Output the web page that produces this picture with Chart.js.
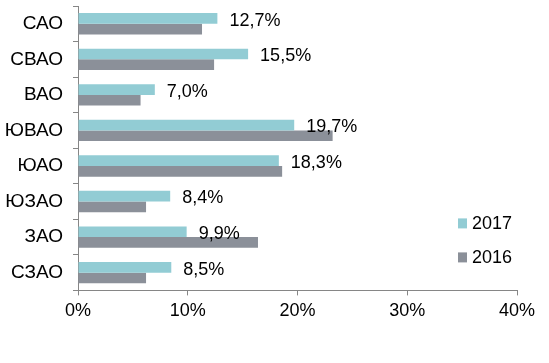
<!DOCTYPE html>
<html>
<head>
<meta charset="utf-8">
<style>
  html, body { margin: 0; padding: 0; background: #fff; }
  #wrap { width: 549px; height: 363px; }
</style>
</head>
<body>
<div id="wrap"><canvas id="districtChart"></canvas></div>

<script src="https://cdn.jsdelivr.net/npm/chart.js"></script>
<script>
  // districts, top to bottom
  const districts = ['САО', 'СВАО', 'ВАО', 'ЮВАО', 'ЮАО', 'ЮЗАО', 'ЗАО', 'СЗАО'];
  const seriesNames = ['2017', '2016'];
  const values2017 = [12.7, 15.5, 7.0, 19.7, 18.3, 8.4, 9.9, 8.5];
  const values2016 = [11.3, 12.4, 5.7, 23.2, 18.6, 6.2, 16.4, 6.2];
  const xTicks = [0, 10, 20, 30, 40];

  const tealColor = 'rgb(146, 204, 212)';
  const greyColor = 'rgb(139, 144, 153)';
  const axisColor = 'rgb(134, 134, 134)';
  const fontFamily = '"Liberation Sans", Arial, sans-serif';

  function fmtPct(v) {
      return v.toFixed(1).replace('.', ',') + '%';
  }

  // labels at the end of the 2017 bars
  const valueLabels = {
      id: 'valueLabels',
      afterDatasetsDraw(chart) {
          const ctx = chart.ctx;
          const meta = chart.getDatasetMeta(0);
          ctx.save();
          ctx.font = '18px ' + fontFamily;
          ctx.fillStyle = '#000';
          ctx.textAlign = 'left';
          ctx.textBaseline = 'middle';
          meta.data.forEach(function (bar, i) {
              const v = chart.data.datasets[0].data[i];
              ctx.fillText(fmtPct(v), bar.x + 12, bar.y + bar.height / 2 - 3);
          });
          ctx.restore();
      }
  };

  // legend drawn inside the plot, lower right
  const cornerLegend = {
      id: 'cornerLegend',
      afterDraw(chart) {
          const ctx = chart.ctx;
          const area = chart.chartArea;
          const x = area.right - 59;
          let y = area.bottom - 67;
          ctx.save();
          ctx.font = '18px ' + fontFamily;
          ctx.textAlign = 'left';
          ctx.textBaseline = 'middle';
          chart.data.datasets.forEach(function (ds) {
              ctx.fillStyle = ds.backgroundColor;
              ctx.fillRect(x, y - 5, 9, 10);
              ctx.fillStyle = '#000';
              ctx.fillText(ds.label, x + 14, y + 1);
              y += 34;
          });
          ctx.restore();
      }
  };

  const ctx = document.getElementById('districtChart');
  const districtChart = new Chart(ctx, {
      type: 'bar',
      plugins: [valueLabels, cornerLegend],
      data: {
          labels: districts,
          datasets: [
              {
                  label: seriesNames[0],
                  data: values2017,
                  backgroundColor: tealColor,
                  categoryPercentage: 0.6,
                  barPercentage: 1.0,
              },
              {
                  label: seriesNames[1],
                  data: values2016,
                  backgroundColor: greyColor,
                  categoryPercentage: 0.6,
                  barPercentage: 1.0,
              },
          ]
      },
      options: {
          indexAxis: 'y',
          responsive: true,
          maintainAspectRatio: false,
          animation: false,
          layout: {
              padding: { top: 6, right: 32, bottom: 36, left: 0 }
          },
          plugins: {
              legend: { display: false },
              tooltip: { enabled: false },
              title: { display: false }
          },
          scales: {
              x: {
                  min: 0,
                  max: 40,
                  afterBuildTicks: function (axis) {
                      axis.ticks = xTicks.map(function (v) { return { value: v }; });
                  },
                  grid: {
                      drawOnChartArea: false,
                      drawTicks: true,
                      tickLength: 5,
                      color: axisColor
                  },
                  border: { color: axisColor },
                  ticks: {
                      padding: 5,
                      color: '#000',
                      font: { family: fontFamily, size: 18 },
                      callback: function (v) { return v + '%'; }
                  }
              },
              y: {
                  grid: {
                      drawOnChartArea: false,
                      drawTicks: true,
                      tickLength: 5,
                      offset: true,
                      color: axisColor
                  },
                  border: { color: axisColor },
                  ticks: {
                      padding: 10,
                      color: '#000',
                      font: { family: fontFamily, size: 19 }
                  },
                  afterFit: function (axis) {
                      axis.width = 78;
                      axis.paddingTop = 0;
                      axis.paddingBottom = 0;
                  }
              }
          }
      }
  });
</script>
</body>
</html>
